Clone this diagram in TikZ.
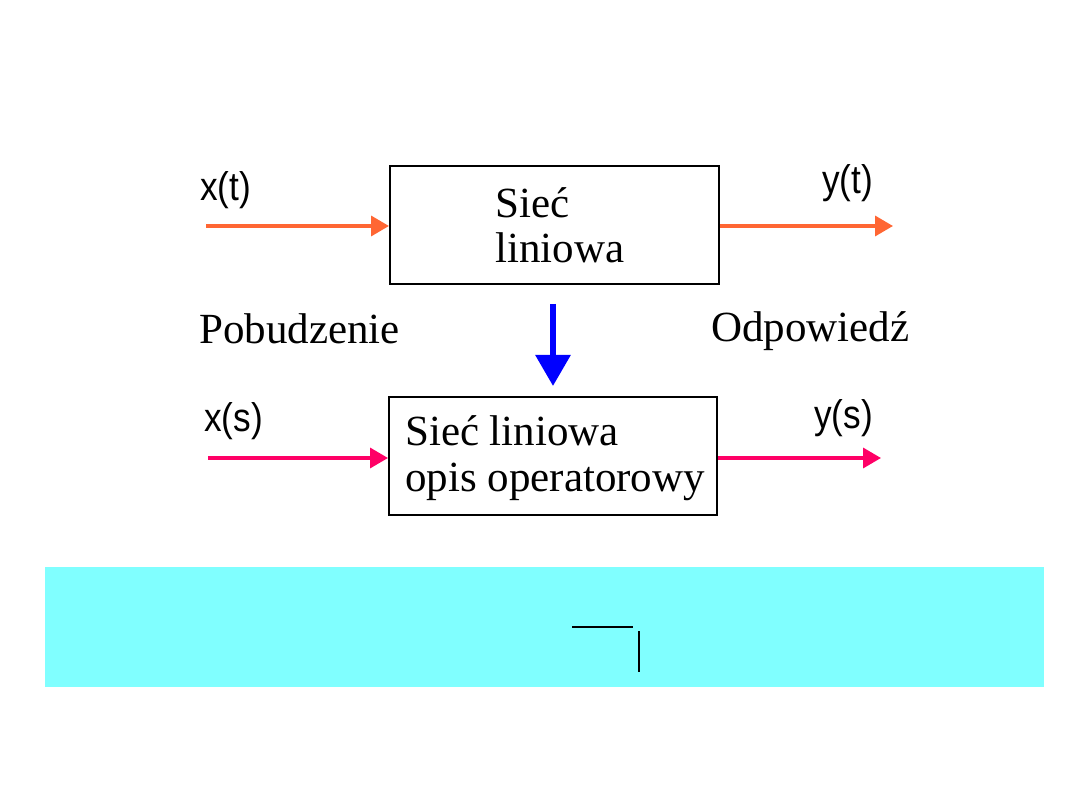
\documentclass[tikz,border=0pt]{standalone}
\usepackage{fontspec}
\setmainfont{Liberation Serif}
\newfontfamily\lbl{Liberation Sans}
\usetikzlibrary{arrows.meta}
\definecolor{orng}{HTML}{FF6633}
\definecolor{pnk}{HTML}{FF0066}
\definecolor{cyanband}{HTML}{80FFFF}
\newcommand{\vlab}[1]{\scalebox{0.88}[1]{#1}}
\begin{document}
\begin{tikzpicture}[x=1pt,y=-1pt,
  blk/.style={draw=black,line width=2pt,inner sep=0pt},
  sig/.style={line width=3.5pt,-{Triangle[length=18pt,width=20pt]}},
  txt/.style={font=\fontsize{43}{45}\selectfont,inner sep=0pt,anchor=base west,align=left},
  var/.style={font=\lbl\fontsize{40}{40}\selectfont,inner sep=0pt,anchor=base west}]
\useasboundingbox[fill=white] (0,0) rectangle (1080,810);
% blocks
\node[blk,minimum width=329pt,minimum height=118pt] (box1) at (554.5,225) {};
\node[blk,minimum width=328pt,minimum height=118pt] (box2) at (553,456) {};
\node[txt] (t1) at (495,218) {Sieć};
\node[txt] (t2) at (495,263) {liniowa};
\node[txt] (t3) at (405,446) {Sieć liniowa};
\node[txt] (t4) at (405,492) {opis operatorowy};
\node[txt] (pob) at (199,344) {Pobudzenie};
\node[txt] (odp) at (711,342) {Odpowiedź};
% signal labels
\node[var] (xt) at (200,201) {\vlab{x(t)}};
\node[var] (yt) at (822,194) {\vlab{y(t)}};
\node[var] (xs) at (204,432) {\vlab{x(s)}};
\node[var] (ys) at (814,429) {\vlab{y(s)}};
% arrows
\coordinate (xtin) at (206,226);
\coordinate (ytout) at (893,226);
\coordinate (xsin) at (208,458);
\coordinate (ysout) at (881,458);
\draw[sig,orng] (xtin) -- (box1.west |- xtin);
\draw[sig,orng] (box1.east |- ytout) -- (ytout);
\draw[sig,pnk] (xsin) -- (box2.west |- xsin);
\draw[sig,pnk] (box2.east |- ysout) -- (ysout);
% blue arrow
\coordinate (bstart) at (553,304);
\coordinate (bend) at (553,386);
\draw[blue,line width=6pt,-{Triangle[length=31pt,width=34pt]}] (bstart) -- (bend);
% cyan band
\fill[cyanband] (45,567) rectangle (1044,687);
\coordinate (h1) at (572,627);
\coordinate (h2) at (633,627);
\coordinate (v1) at (639,631);
\coordinate (v2) at (639,672);
\draw[black,line width=1.3pt] (h1) -- (h2);
\draw[black,line width=1.3pt] (v1) -- (v2);
\end{tikzpicture}
\end{document}
